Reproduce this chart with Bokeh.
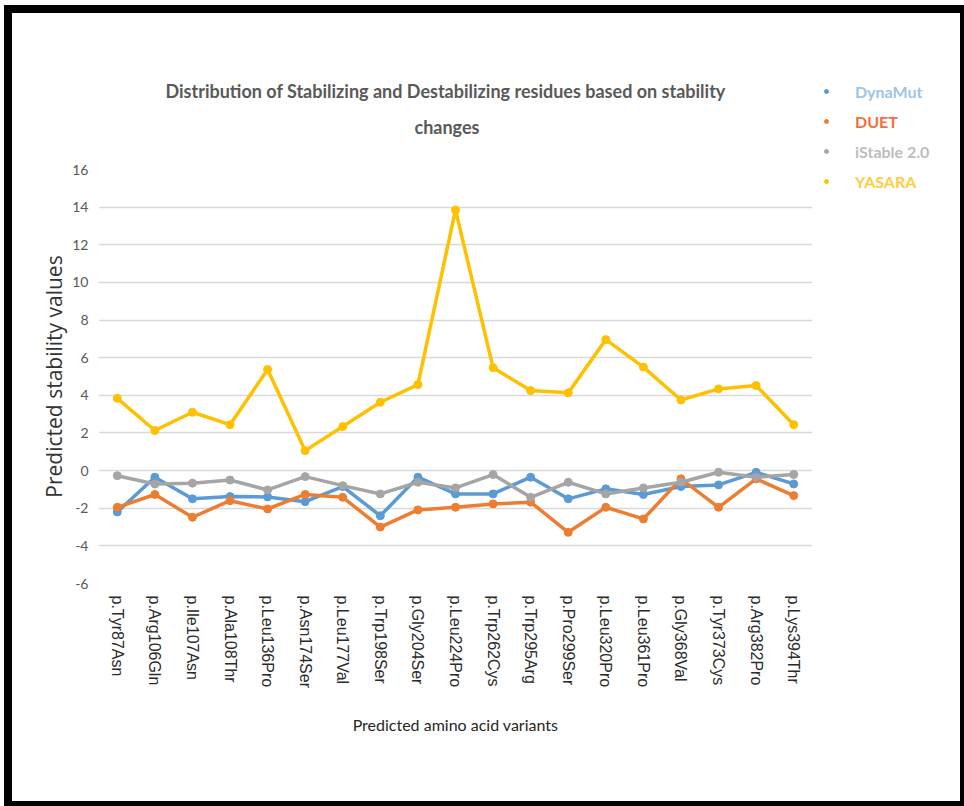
import math
from bokeh.plotting import figure
from bokeh.layouts import row
from bokeh.models import (FactorRange, Range1d, FixedTicker, Legend, LegendItem,
                          ColumnDataSource, Title, PrintfTickFormatter)
from bokeh.embed import file_html
from bokeh.resources import INLINE

categories = ["p.Tyr87Asn", "p.Arg106Gln", "p.Ile107Asn", "p.Ala108Thr", "p.Leu136Pro",
              "p.Asn174Ser", "p.Leu177Val", "p.Trp198Ser", "p.Gly204Ser", "p.Leu224Pro",
              "p.Trp262Cys", "p.Trp295Arg", "p.Pro299Ser", "p.Leu320Pro", "p.Leu361Pro",
              "p.Gly368Val", "p.Tyr373Cys", "p.Arg382Pro", "p.Lys394Thr"]
dynamut = [-2.2, -0.35, -1.5, -1.38, -1.4, -1.65, -0.85, -2.4, -0.35, -1.24,
           -1.24, -0.35, -1.5, -0.97, -1.27, -0.85, -0.76, -0.09, -0.71]
duet = [-1.95, -1.27, -2.48, -1.6, -2.04, -1.27, -1.42, -3.0, -2.09, -1.95,
        -1.77, -1.68, -3.28, -1.95, -2.57, -0.44, -1.95, -0.44, -1.33]
istable = [-0.27, -0.71, -0.67, -0.5, -1.03, -0.32, -0.8, -1.24, -0.62, -0.92,
           -0.21, -1.42, -0.62, -1.24, -0.92, -0.62, -0.09, -0.35, -0.21]
yasara = [3.84, 2.13, 3.1, 2.44, 5.37, 1.06, 2.34, 3.63, 4.57, 13.85,
          5.47, 4.25, 4.13, 6.96, 5.5, 3.75, 4.34, 4.52, 2.44]
y_ticks = [-6, -4, -2, 0, 2, 4, 6, 8, 10, 12, 14, 16]

series_names = ["DynaMut", "DUET", "iStable 2.0", "YASARA"]
series_values = [dynamut, duet, istable, yasara]
line_colors = ["#5B9BD5", "#ED7D31", "#A5A5A5", "#FFC000"]
label_colors = ["#9DC3E6", "#F2703A", "#BDBDBD", "#FFCC40"]

# content area inside the black picture frame
OX, OY = 12, 13
CW, CH = 948, 788
PW = 812 - OX          # main figure width (frame right edge = figure right edge)
LW = CW - PW           # legend column width
FL, FT, FB = 98 - OX, 169 - OY, 583 - OY

p = figure(width=PW, height=CH, x_range=FactorRange(factors=categories),
           y_range=Range1d(-6, 16), output_backend="svg", toolbar_location=None,
           min_border_left=FL, min_border_right=0, min_border_top=FT,
           min_border_bottom=CH - FB)
p.frame_align = False
p.outline_line_color = None
p.background_fill_color = "white"
p.border_fill_color = "white"

p.title.text = "Distribution of Stabilizing and Destabilizing residues based on stability"
p.title.align = "left"
p.title.offset = 67
p.title.text_font = "Lato"
p.title.text_font_style = "bold"
p.title.text_font_size = "18px"
p.title.text_color = "#595959"
p.title.standoff = -39
p.add_layout(Title(text="changes", align="left", offset=316, text_font="Lato",
                   text_font_style="bold", text_font_size="18px",
                   text_color="#595959", standoff=63), "above")

# axes
p.yaxis.ticker = FixedTicker(ticks=y_ticks)
p.yaxis.formatter = PrintfTickFormatter(format="%d")
p.yaxis.axis_line_color = None
p.yaxis.major_tick_line_color = None
p.yaxis.minor_tick_line_color = None
p.yaxis.major_tick_out = 0
p.yaxis.major_tick_in = 0
p.yaxis.minor_tick_out = 0
p.yaxis.major_label_text_font = "Lato"
p.yaxis.major_label_text_font_size = "14px"
p.yaxis.major_label_text_color = "#595959"
p.yaxis.major_label_standoff = 10
p.yaxis.axis_label = "Predicted stability values"
p.yaxis.axis_label_text_font = "Open Sans"
p.yaxis.axis_label_text_font_style = "normal"
p.yaxis.axis_label_text_font_size = "21px"
p.yaxis.axis_label_text_color = "#333333"
p.yaxis.axis_label_standoff = 1

p.xaxis.axis_line_color = None
p.xaxis.major_tick_line_color = None
p.xaxis.minor_tick_line_color = None
p.xaxis.major_tick_out = 0
p.xaxis.major_tick_in = 0
p.xaxis.minor_tick_out = 0
p.xaxis.major_label_orientation = -math.pi / 2
p.xaxis.major_label_text_font = "Liberation Sans"
p.xaxis.major_label_text_font_size = "16px"
p.xaxis.major_label_text_color = "#2B2B2B"
p.xaxis.major_label_standoff = 12
p.xaxis.axis_label = "Predicted amino acid variants"
p.xaxis.axis_label_text_font = "Lato"
p.xaxis.axis_label_text_font_style = "normal"
p.xaxis.axis_label_text_font_size = "16px"
p.xaxis.axis_label_text_color = "#262626"
p.xaxis.axis_label_standoff = 24

p.xgrid.grid_line_color = None
p.ygrid.grid_line_color = "#D9D9D9"
p.ygrid.grid_line_width = 1.5

for name, vals, lc in zip(series_names, series_values, line_colors):
    src = ColumnDataSource(dict(x=categories, y=vals))
    p.line("x", "y", source=src, line_color=lc, line_width=3.5)
    p.scatter("x", "y", source=src, size=8, fill_color=lc, line_color=lc)

# legend column (to the right of the plot area)
lg = figure(width=LW, height=CH, x_range=Range1d(0, 1), y_range=Range1d(0, 1),
            output_backend="svg", toolbar_location=None,
            min_border=0, min_border_left=0, min_border_right=0,
            min_border_top=0, min_border_bottom=0)
lg.frame_align = False
lg.title.visible = False
lg.axis.visible = False
lg.grid.visible = False
lg.outline_line_color = None
lg.background_fill_color = "white"
lg.border_fill_color = "white"

legend_rows = [91, 121, 151, 181]
for name, lc, tc, ry in zip(series_names, line_colors, label_colors, legend_rows):
    # legend proxy: a single non-drawn point (NaN) carrying the series style
    dot = lg.scatter(x=[0.5], y=[float("nan")], size=8, fill_color=lc, line_color=lc)
    leg = Legend(items=[LegendItem(label=name, renderers=[dot])],
                 location="top_left", title=" ", title_text_font_size="1px",
                 title_standoff=(ry - OY - 10) - 9 - 1,
                 padding=9, margin=0, glyph_width=10, glyph_height=10,
                 label_height=20, label_standoff=24,
                 label_text_font="Lato", label_text_font_style="bold",
                 label_text_font_size="16px", label_text_color=tc,
                 background_fill_alpha=0, border_line_alpha=0)
    lg.add_layout(leg, "center")

layout = row(p, lg, spacing=0,
             styles={"margin-left": "4px", "margin-top": "5px",
                     "border-style": "solid", "border-color": "black",
                     "border-width": "8px 4px 5px 8px"})

open("out.html", "w").write(file_html(layout, INLINE))
